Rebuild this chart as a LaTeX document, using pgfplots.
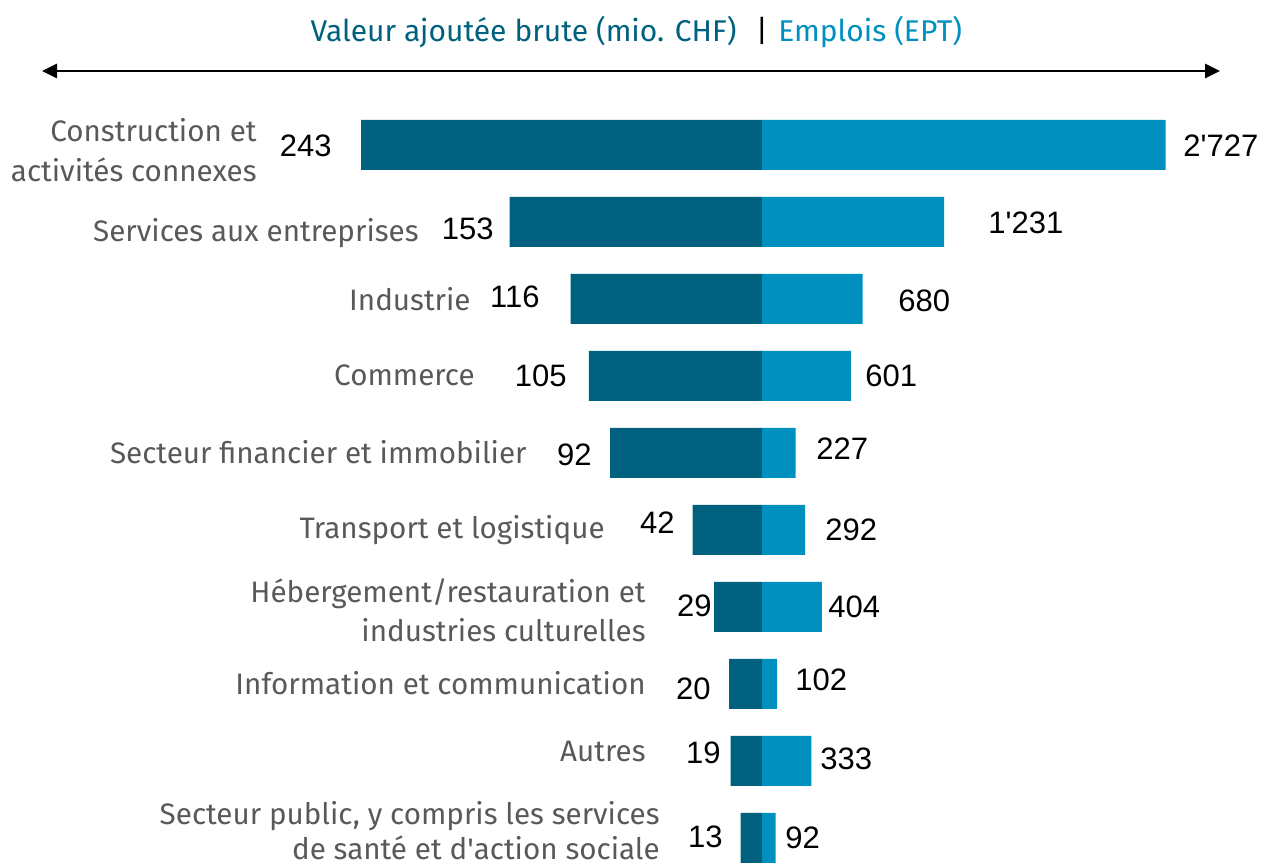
\documentclass[border=0pt]{standalone}
\usepackage{pgfplots}
\pgfplotsset{compat=1.18}
\usepackage{pgfplotstable}
\usepackage{fontspec}
\setmainfont{Fira Sans}
\newfontfamily\numfont{Liberation Sans}
\usetikzlibrary{arrows.meta}
\definecolor{dark}{HTML}{00617F}
\definecolor{light}{HTML}{0090C0}
\definecolor{lab}{HTML}{595959}

\pgfplotstableread{
idx va emp
0 243 2727
1 153 1231
2 116 680
3 105 601
4 92 227
5 42 292
6 29 404
7 20 102
8 19 333
9 13 92
}\data

\pgfplotsset{butterfly/.style={at={(21pt,379.25pt)}, anchor=north west,
  scale only axis, width=589pt, height=385pt, ymin=-0.5, ymax=9.5,
  y dir=reverse, hide axis, clip=false}}

\begin{document}
\begin{tikzpicture}
\useasboundingbox (0,0) rectangle (631.5pt,432.5pt);
\begin{axis}[butterfly, xmin=-436.3636, xmax=277.5758]
\addplot[xbar, bar width=25pt, fill=dark, draw=none] table[x expr=-\thisrow{va}, y=idx]{\data};
\end{axis}
\begin{axis}[butterfly, xmin=-4864.86, xmax=3094.59]
\addplot[xbar, bar width=25pt, fill=light, draw=none] table[x=emp, y=idx]{\data};
\end{axis}
\begin{scope}[x=0.5pt, y=-0.5pt, shift={(0pt,432.5pt)}]
\draw[{Triangle[length=7.5pt,width=7pt]}-{Triangle[length=7.5pt,width=7pt]}, line width=1.35pt] (42,71) -- (1220,71);
\begin{scope}[every node/.style={inner sep=0pt, font=\fontsize{15}{18}\selectfont}]
\node[anchor=base east, text=dark] at (737,42) {Valeur ajoutée brute (mio. CHF)};
\node[anchor=base] at (762,42) {|};
\node[anchor=base west, text=light] at (778,42) {Emplois (EPT)};
\end{scope}
\begin{scope}[every node/.style={inner sep=0pt, anchor=base east, text=lab, font=\fontsize{14.8}{17}\selectfont}]
\node at (257,142) {Construction et};
\node at (257,182) {activités connexes};
\node at (419,242) {Services aux entreprises};
\node at (471,311) {Industrie};
\node at (475,386) {Commerce};
\node at (527,464) {Secteur financier et immobilier};
\node at (605,539) {Transport et logistique};
\node at (646,603) {Hébergement/restauration et};
\node at (646,642) {industries culturelles};
\node at (646,695) {Information et communication};
\node at (646,762) {Autres};
\node at (660,825) {Secteur public, y compris les services};
\node at (660,860) {de santé et d\textquotesingle action sociale};
\end{scope}
\begin{scope}[every node/.style={inner sep=0pt, anchor=base east, font=\numfont\fontsize{15.5}{18}\selectfont}]
\node at (332,157) {243};
\node at (494,240) {153};
\node at (540,308) {116};
\node at (567,387) {105};
\node at (592,466) {92};
\node at (675,534) {42};
\node at (712,617) {29};
\node at (711,700) {20};
\node at (721,764) {19};
\node at (723,848) {13};
\end{scope}
\begin{scope}[every node/.style={inner sep=0pt, anchor=base west, font=\numfont\fontsize{15.5}{18}\selectfont}]
\node at (1183,157) {2\textquotesingle 727};
\node at (988,234) {1\textquotesingle 231};
\node at (898,312) {680};
\node at (865,387) {601};
\node at (816,460) {227};
\node at (825,541) {292};
\node at (828,618) {404};
\node at (795,691) {102};
\node at (820,770) {333};
\node at (785,849) {92};
\end{scope}
\end{scope}
\end{tikzpicture}
\end{document}
